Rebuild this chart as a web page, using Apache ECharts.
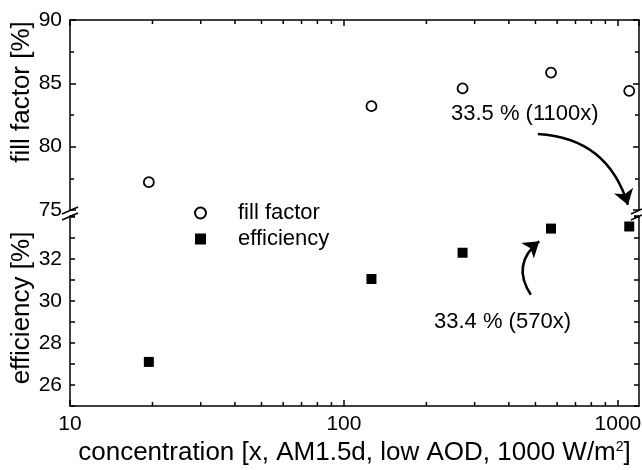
<!DOCTYPE html>
<html>
<head>
<meta charset="utf-8">
<script src="https://cdn.jsdelivr.net/npm/echarts@6/dist/echarts.min.js"></script>
<style>
  html, body { margin: 0; padding: 0; background: #fff; }
  #chart { width: 642px; height: 470px; }
</style>
</head>
<body>
<div id="chart"></div>
<script>
// concentration (x) and measured values
var concentration = [19.4, 126, 271, 570, 1100];
var fillFactor = [77.2, 83.2, 84.6, 85.85, 84.4];
var efficiency = [27.1, 31.05, 32.3, 33.45, 33.55];
var minorX = [20, 30, 40, 50, 60, 70, 80, 90, 200, 300, 400, 500, 600, 700, 800, 900];
var xMin = 10, xMax = 1194;
// arrow ends: [concentration, value]
var arrow1100 = [[510, 81.0], [1088, 75.4]];
var arrow570 = [[481, 30.3], [516, 32.85]];

var FONT = 'Liberation Sans, Arial, sans-serif';

function pairs(xs, ys) {
	var out = [];
	for (var i = 0; i < xs.length; i++) out.push([xs[i], ys[i]]);
	return out;
}

// minor log ticks, drawn through the x scale
function minorTicks(atTop, atBottom) {
	return function(params, api) {
		var cs = params.coordSys;
		var x = api.coord([api.value(0), 0])[0];
		var kids = [];
		if (atBottom) kids.push({ type: 'line', shape: { x1: x, y1: cs.y + cs.height, x2: x, y2: cs.y + cs.height - 4 }, style: { stroke: '#000', lineWidth: 1.5 } });
		if (atTop) kids.push({ type: 'line', shape: { x1: x, y1: cs.y, x2: x, y2: cs.y + 4 }, style: { stroke: '#000', lineWidth: 1.5 } });
		return { type: 'group', children: kids };
	};
}

var axisLine = { show: true, onZero: false, lineStyle: { color: '#000', width: 1.5 } };
var tick = { show: true, inside: true, length: 6, lineStyle: { color: '#000', width: 1.5 } };
var minor = { show: true, splitNumber: 2, length: 4, lineStyle: { color: '#000', width: 1.5 } };
var label = { color: '#000', fontSize: 21, fontFamily: FONT, margin: 8 };

var myChart = echarts.init(document.getElementById('chart'));

var option = {
	animation: false,
	backgroundColor: '#fff',
	grid: [
		{ left: 70, right: 3, top: 20, height: 190, outerBoundsMode: 'none' },
		{ left: 70, right: 3, top: 216, height: 190, outerBoundsMode: 'none' }
	],
	legend: {
		data: [{ name: 'fill factor', icon: 'circle' }, { name: 'efficiency', icon: 'rect' }],
		orient: 'vertical',
		left: 189,
		top: 197,
		itemWidth: 11,
		itemHeight: 11,
		itemGap: 4,
		textStyle: { color: '#000', fontSize: 22, fontFamily: FONT, padding: [0, 0, 0, 27] }
	},
	xAxis: [{
		gridIndex: 0,
		type: 'log',
		position: 'top',
		min: xMin,
		max: xMax,
		axisLine: axisLine,
		axisTick: tick,
		axisLabel: { show: false },
		splitLine: { show: false }
	}, {
		gridIndex: 1,
		type: 'log',
		min: xMin,
		max: xMax,
		axisLine: axisLine,
		axisTick: tick,
		axisLabel: {
			color: '#000', fontSize: 21, fontFamily: FONT, margin: 8,
			showMaxLabel: false,
			formatter: function(v) { return String(Math.round(v)); }
		},
		splitLine: { show: false },
		name: 'concentration [x, AM1.5d, low AOD, 1000 W/m{sup|2}]',
		nameLocation: 'middle',
		nameGap: 34,
		nameTextStyle: {
			color: '#000', fontSize: 26, fontFamily: FONT,
			rich: { sup: { fontSize: 14, verticalAlign: 'top', padding: [0, 0, 12, 0], fontFamily: FONT, color: '#000' } }
		}
	}],
	yAxis: [{
		gridIndex: 0,
		type: 'value',
		min: 75,
		max: 90,
		interval: 5,
		axisLine: axisLine,
		axisTick: tick,
		minorTick: minor,
		axisLabel: label,
		splitLine: { show: false },
		name: 'fill factor [%]',
		nameLocation: 'middle',
		nameGap: 35,
		nameMoveOverlap: false,
		nameTextStyle: { color: '#000', fontSize: 26, fontFamily: FONT, padding: [0, 0, 0, 46] }
	}, {
		gridIndex: 0,
		type: 'value',
		position: 'right',
		min: 75,
		max: 90,
		interval: 5,
		axisLine: axisLine,
		axisTick: tick,
		minorTick: minor,
		axisLabel: { show: false },
		splitLine: { show: false }
	}, {
		gridIndex: 1,
		type: 'value',
		min: 25,
		max: 34.05,
		interval: 1,
		axisLine: axisLine,
		axisTick: { show: true, inside: true, length: 5, lineStyle: { color: '#000', width: 1.5 } },
		axisLabel: {
			color: '#000', fontSize: 21, fontFamily: FONT, margin: 8,
			formatter: function(v) { return (v % 2 === 0 && v <= 32) ? String(v) : ''; }
		},
		splitLine: { show: false },
		name: 'efficiency [%]',
		nameLocation: 'middle',
		nameGap: 35,
		nameMoveOverlap: false,
		nameTextStyle: { color: '#000', fontSize: 26, fontFamily: FONT, padding: [0, 0, 0, 6] }
	}, {
		gridIndex: 1,
		type: 'value',
		position: 'right',
		min: 25,
		max: 34.05,
		interval: 1,
		axisLine: axisLine,
		axisTick: { show: true, inside: true, length: 5, lineStyle: { color: '#000', width: 1.5 } },
		axisLabel: { show: false },
		splitLine: { show: false }
	}],
	series: [{
		name: 'fill factor',
		type: 'scatter',
		xAxisIndex: 0,
		yAxisIndex: 0,
		symbol: 'circle',
		symbolSize: 10,
		itemStyle: { color: '#fff', borderColor: '#000', borderWidth: 1.8, opacity: 1 },
		data: pairs(concentration, fillFactor)
	}, {
		name: 'efficiency',
		type: 'scatter',
		xAxisIndex: 1,
		yAxisIndex: 2,
		symbol: 'rect',
		symbolSize: 10,
		itemStyle: { color: '#000', opacity: 1 },
		data: pairs(concentration, efficiency)
	}, {
		type: 'lines',
		coordinateSystem: 'cartesian2d',
		xAxisIndex: 0,
		yAxisIndex: 0,
		silent: true,
		symbol: ['none', 'arrow'],
		symbolSize: [11, 15],
		lineStyle: { color: '#000', width: 2.5, opacity: 1, curveness: 0.35 },
		data: [{ coords: arrow1100 }]
	}, {
		type: 'lines',
		coordinateSystem: 'cartesian2d',
		xAxisIndex: 1,
		yAxisIndex: 2,
		silent: true,
		symbol: ['none', 'arrow'],
		symbolSize: [11, 15],
		lineStyle: { color: '#000', width: 2.5, opacity: 1, curveness: 0.45 },
		data: [{ coords: arrow570 }]
	}, {
		type: 'custom',
		xAxisIndex: 0,
		yAxisIndex: 0,
		silent: true,
		renderItem: minorTicks(true, false),
		data: minorX.map(function(v) { return [v]; })
	}, {
		type: 'custom',
		xAxisIndex: 1,
		yAxisIndex: 2,
		silent: true,
		renderItem: minorTicks(false, true),
		data: minorX.map(function(v) { return [v]; })
	}],
	graphic: [
		// axis break marks
		{ type: 'line', shape: { x1: 62, y1: 214, x2: 78, y2: 207 }, style: { stroke: '#000', lineWidth: 1.5 } },
		{ type: 'line', shape: { x1: 62, y1: 220, x2: 78, y2: 213 }, style: { stroke: '#000', lineWidth: 1.5 } },
		{ type: 'line', shape: { x1: 631, y1: 214, x2: 642, y2: 209 }, style: { stroke: '#000', lineWidth: 1.5 } },
		{ type: 'line', shape: { x1: 631, y1: 220, x2: 642, y2: 215 }, style: { stroke: '#000', lineWidth: 1.5 } },
		// annotations
		{ type: 'text', left: 451, top: 103, style: { text: '33.5 % (1100x)', fill: '#000', font: '22px ' + FONT } },
		{ type: 'text', left: 434, top: 311, style: { text: '33.4 % (570x)', fill: '#000', font: '22px ' + FONT } }
	]
};

myChart.setOption(option);
</script>
</body>
</html>
